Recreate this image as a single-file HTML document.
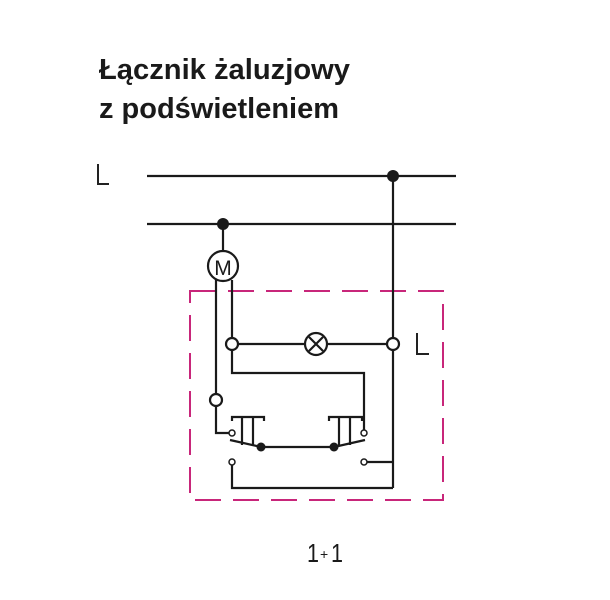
<!DOCTYPE html>
<html><head><meta charset="utf-8"><style>body{margin:0;background:#fff}svg{display:block}</style></head>
<body>
<svg width="610" height="600" xmlns="http://www.w3.org/2000/svg">
<text x="99" y="79" font-family="Liberation Sans, sans-serif" font-weight="bold" font-size="29" fill="#1a1a1a" textLength="251" lengthAdjust="spacingAndGlyphs">Łącznik  żaluzjowy</text>
<text x="99" y="118" font-family="Liberation Sans, sans-serif" font-weight="bold" font-size="29" fill="#1a1a1a" textLength="240" lengthAdjust="spacingAndGlyphs">z podświetleniem</text>
<path d="M98 164 V184 H109" stroke="#222" stroke-width="2" fill="none"/>
<path d="M417 333 V354 H429" stroke="#222" stroke-width="2" fill="none"/>
<rect x="190" y="291" width="253" height="209" fill="none" stroke="#c8267a" stroke-width="2" stroke-dasharray="26,12"/>
<g stroke="#1a1a1a" stroke-width="2.2" fill="none">
<line x1="147" y1="176" x2="456" y2="176"/>
<line x1="147" y1="224" x2="456" y2="224"/>
<line x1="393" y1="176" x2="393" y2="338"/>
<line x1="393" y1="350" x2="393" y2="488"/>
<line x1="223" y1="224" x2="223" y2="251"/>
<circle cx="223" cy="266" r="15" fill="#fff"/>
<line x1="216" y1="280" x2="216" y2="394"/>
<line x1="232" y1="280" x2="232" y2="338"/>
<line x1="238" y1="344" x2="305" y2="344"/>
<circle cx="316" cy="344" r="11" fill="#fff"/>
<path d="M309 337 L323 351 M323 337 L309 351"/>
<line x1="327" y1="344" x2="387" y2="344"/>
<circle cx="232" cy="344" r="6" fill="#fff"/>
<circle cx="393" cy="344" r="6" fill="#fff"/>
<path d="M232 350 V373 H364 V430"/>
<circle cx="216" cy="400" r="6" fill="#fff"/>
<path d="M216 406 V433 H229"/>
<path d="M230 440 L261 447 L334 447 L365 440"/>
<path d="M232 421 V417 H264 V421 M242 417 V445 M253 417 V445"/>
<path d="M329 421 V417 H362 V421 M339 417 V445 M350 417 V445"/>
<path d="M367 462 H393"/>
<path d="M232 465 V488 H393"/>
</g>
<g stroke="#1a1a1a" stroke-width="1.5" fill="#fff">
<circle cx="232" cy="433" r="3"/><circle cx="364" cy="433" r="3"/>
<circle cx="232" cy="462" r="3"/><circle cx="364" cy="462" r="3"/>
</g>
<g fill="#1a1a1a">
<circle cx="393" cy="176" r="6"/><circle cx="223" cy="224" r="6"/>
<circle cx="261" cy="447" r="4.5"/><circle cx="334" cy="447" r="4.5"/>
</g>
<text x="223" y="275" text-anchor="middle" font-family="Liberation Sans, sans-serif" font-size="21" fill="#1a1a1a">M</text>
<text x="307" y="562" font-family="Liberation Sans, sans-serif" font-size="26" fill="#1a1a1a" textLength="12" lengthAdjust="spacingAndGlyphs">1</text>
<text x="320" y="559" font-family="Liberation Sans, sans-serif" font-size="14" fill="#1a1a1a">+</text>
<text x="331" y="562" font-family="Liberation Sans, sans-serif" font-size="26" fill="#1a1a1a" textLength="12" lengthAdjust="spacingAndGlyphs">1</text>
</svg>
</body></html>
